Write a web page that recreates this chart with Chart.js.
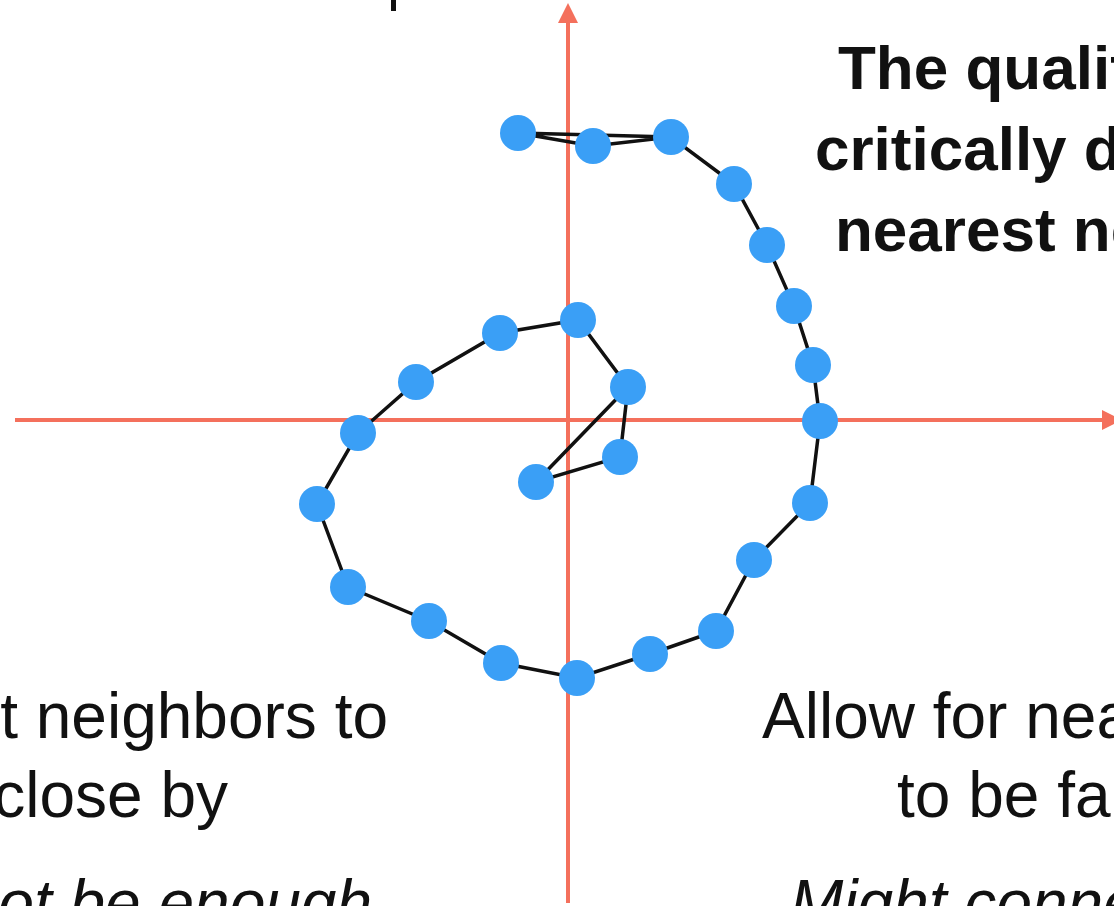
<!DOCTYPE html>
<html>
<head>
<meta charset="utf-8">
<title>Nearest neighbor graph</title>
<script src="https://cdn.jsdelivr.net/npm/chart.js@4.4.1/dist/chart.umd.min.js"></script>
<style>
  html, body { margin: 0; padding: 0; background: #fff; overflow: hidden; }
  #stage { position: relative; width: 1114px; height: 906px; overflow: hidden; }
  #graph { position: absolute; left: 0; top: 0; }
  .txt {
    position: absolute;
    white-space: nowrap;
    font-family: "Liberation Sans", Arial, Helvetica, sans-serif;
    color: #111;
    line-height: 1;
  }
  .head { font-size: 62px; font-weight: bold; }
  .body { font-size: 64px; }
  .note { font-size: 64px; font-style: italic; }
  .mark { position: absolute; left: 391px; top: 0; width: 5px; height: 11px; background: #111; }
</style>
</head>
<body>
<div id="stage">
  <canvas id="graph" width="1114" height="906"></canvas>

  <div class="mark"></div>

  <div class="txt head" style="left:838px; top:37px;">The quality</div>
  <div class="txt head" style="left:815px; top:118px;">critically depends</div>
  <div class="txt head" style="left:835px; top:199px;">nearest neighbor</div>

  <div class="txt body" style="right:726px; top:684px;">nearest neighbors to</div>
  <div class="txt body" style="right:886px; top:763px;">close by</div>
  <div class="txt note" style="right:742px; top:871px;">might not be enough</div>

  <div class="txt body" style="left:762px; top:684px;">Allow for nearest</div>
  <div class="txt body" style="left:897px; top:763px;">to be far</div>
  <div class="txt note" style="left:790px; top:871px;">Might connect</div>
</div>

<script>
// Sample points lying on a spiral, listed along the curve from the outer end inwards
const nodeX = [-0.50, 0.25, 1.03, 1.66, 1.99, 2.26, 2.45, 2.52, 2.42, 1.86, 1.48, 0.82,
               0.09, -0.67, -1.39, -2.20, -2.51, -2.10, -1.52, -0.68, 0.10, 0.60, 0.52, -0.32];
const nodeY = [2.87, 2.74, 2.83, 2.36, 1.75, 1.14, 0.55, -0.01, -0.83, -1.40, -2.11, -2.34,
               -2.58, -2.43, -2.01, -1.67, -0.84, -0.13, 0.38, 0.87, 1.00, 0.33, -0.37, -0.62];

// Edges of the neighbor graph, walked as one path (node indices)
const edgePath = [2, 0, 1, 2, 3, 4, 5, 6, 7, 8, 9, 10, 11, 12, 13, 14, 15, 16, 17,
                  18, 19, 20, 21, 22, 23, 21];

// Visible extent of the two axes
const xRange = [-5.53, 5.34];
const yRange = [-4.83, 3.97];

const AXIS_RED = '#f4705c';
const NODE_BLUE = '#3a9ff6';

const nodes = nodeX.map((x, i) => ({ x: x, y: nodeY[i] }));
const edges = edgePath.map(i => nodes[i]);

// only the zero line of each axis is kept
function zeroTickOnly(axis) {
  axis.ticks = [{ value: 0 }];
}

// arrowheads at the open ends of the axes
const axisArrows = {
  id: 'axisArrows',
  afterDraw(chart) {
    const { ctx, chartArea, scales } = chart;
    const x0 = Math.round(scales.x.getPixelForValue(0));
    const y0 = Math.round(scales.y.getPixelForValue(0));
    ctx.save();
    ctx.fillStyle = AXIS_RED;
    ctx.beginPath();
    ctx.moveTo(x0 - 10, chartArea.top);
    ctx.lineTo(x0 + 10, chartArea.top);
    ctx.lineTo(x0, chartArea.top - 20);
    ctx.closePath();
    ctx.fill();
    ctx.beginPath();
    ctx.moveTo(chartArea.right, y0 - 10);
    ctx.lineTo(chartArea.right, y0 + 10);
    ctx.lineTo(chartArea.right + 20, y0);
    ctx.closePath();
    ctx.fill();
    ctx.restore();
  }
};

const axisStyle = {
  type: 'linear',
  ticks: { display: false },
  border: { display: false },
  grid: { color: AXIS_RED, lineWidth: 4, drawTicks: false },
  afterBuildTicks: zeroTickOnly
};

new Chart(document.getElementById('graph'), {
  type: 'scatter',
  data: {
    datasets: [
      {
        label: 'edges',
        data: edges,
        showLine: true,
        borderColor: '#111',
        borderWidth: 3.5,
        pointRadius: 0,
        order: 2
      },
      {
        label: 'points',
        data: nodes,
        showLine: false,
        backgroundColor: NODE_BLUE,
        borderWidth: 0,
        pointRadius: 18,
        order: 1
      }
    ]
  },
  options: {
    responsive: false,
    animation: false,
    layout: {
      autoPadding: false,
      padding: { left: 15, right: 12, top: 23, bottom: 3 }
    },
    scales: {
      x: Object.assign({}, axisStyle, { min: xRange[0], max: xRange[1] }),
      y: Object.assign({}, axisStyle, { min: yRange[0], max: yRange[1] })
    },
    plugins: {
      legend: { display: false },
      tooltip: { enabled: false }
    }
  },
  plugins: [axisArrows]
});
</script>
</body>
</html>
